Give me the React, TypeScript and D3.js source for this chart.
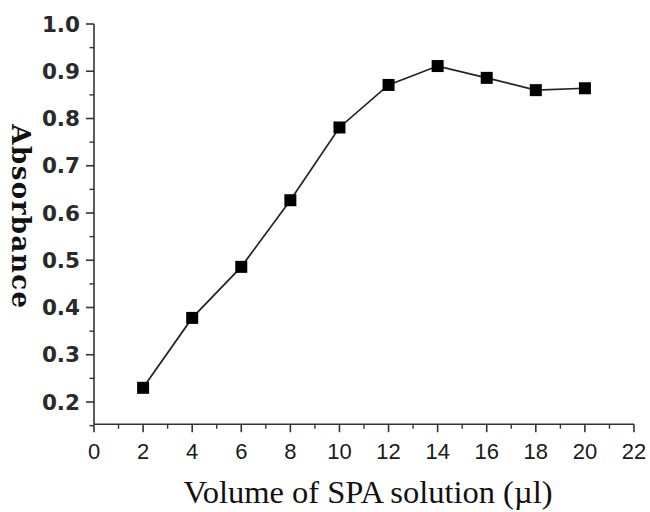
import React from "react";
import * as d3 from "d3";

const volumes = [2, 4, 6, 8, 10, 12, 14, 16, 18, 20];
const absorbance = [0.23, 0.378, 0.486, 0.627, 0.781, 0.871, 0.911, 0.886, 0.86, 0.864];
const xMajorTicks = [0, 2, 4, 6, 8, 10, 12, 14, 16, 18, 20, 22];
const xMinorTicks = [1, 3, 5, 7, 9, 11, 13, 15, 17, 19, 21];
const yMajorTicks = [0.2, 0.3, 0.4, 0.5, 0.6, 0.7, 0.8, 0.9, 1.0];
const yMinorTicks = [0.15, 0.25, 0.35, 0.45, 0.55, 0.65, 0.75, 0.85, 0.95];

export default function App() {
  const W = 650, H = 512;
  const x = d3.scaleLinear().domain([0, 22]).range([94, 634]);
  const y = d3.scaleLinear().domain([0.2, 1.0]).range([402, 24]);
  const yBottom = y(0.153);
  const line = d3.line<number>().x((_, i) => x(volumes[i])).y((d) => y(d));
  const axisColor = "#333";
  const sq = 12;
  return (
    <svg width={W} height={H} style={{ position: "absolute", left: 0, top: 0 }}>
      <rect width={W} height={H} fill="#fff" />
      {/* axes */}
      <line x1={x(0)} x2={x(0)} y1={y(1.0)} y2={yBottom} stroke={axisColor} strokeWidth={1.6} />
      <line x1={x(0)} x2={x(22)} y1={yBottom} y2={yBottom} stroke={axisColor} strokeWidth={1.6} />
      {yMajorTicks.map((t) => (
        <g key={"ym" + t}>
          <line x1={x(0) - 8} x2={x(0)} y1={y(t)} y2={y(t)} stroke={axisColor} strokeWidth={1.6} />
          <text x={x(0) - 14} y={y(t)} dy="0.36em" textAnchor="end" fontFamily="DejaVu Sans, sans-serif" fontSize={21.5} fontWeight="bold" fill="#2a2a2a">
            {t.toFixed(1)}
          </text>
        </g>
      ))}
      {yMinorTicks.map((t) => (
        <line key={"yn" + t} x1={x(0) - 4.5} x2={x(0)} y1={y(t)} y2={y(t)} stroke={axisColor} strokeWidth={1.4} />
      ))}
      {xMajorTicks.map((t) => (
        <g key={"xm" + t}>
          <line x1={x(t)} x2={x(t)} y1={yBottom} y2={yBottom + 8} stroke={axisColor} strokeWidth={1.6} />
          <text x={x(t)} y={459} textAnchor="middle" fontFamily="Liberation Sans, Arial, sans-serif" fontSize={22} fill="#1a1a1a">
            {t}
          </text>
        </g>
      ))}
      {xMinorTicks.map((t) => (
        <line key={"xn" + t} x1={x(t)} x2={x(t)} y1={yBottom} y2={yBottom + 4.5} stroke={axisColor} strokeWidth={1.4} />
      ))}
      {/* data */}
      <path d={line(absorbance) || ""} fill="none" stroke="#222" strokeWidth={1.7} />
      {absorbance.map((v, i) => (
        <rect key={i} x={x(volumes[i]) - sq / 2} y={y(v) - sq / 2} width={sq} height={sq} fill="#000" />
      ))}
      {/* labels */}
      <text x={368} y={503} textAnchor="middle" fontFamily="Liberation Serif, Times New Roman, serif" fontSize={32.5} fill="#111">
        Volume of SPA solution (µl)
      </text>
      <text transform={`translate(12,${217}) rotate(90)`} textAnchor="middle" fontFamily="DejaVu Serif, serif" fontWeight="bold" fontSize={26} letterSpacing={1.5} fill="#111">
        Absorbance
      </text>
    </svg>
  );
}
